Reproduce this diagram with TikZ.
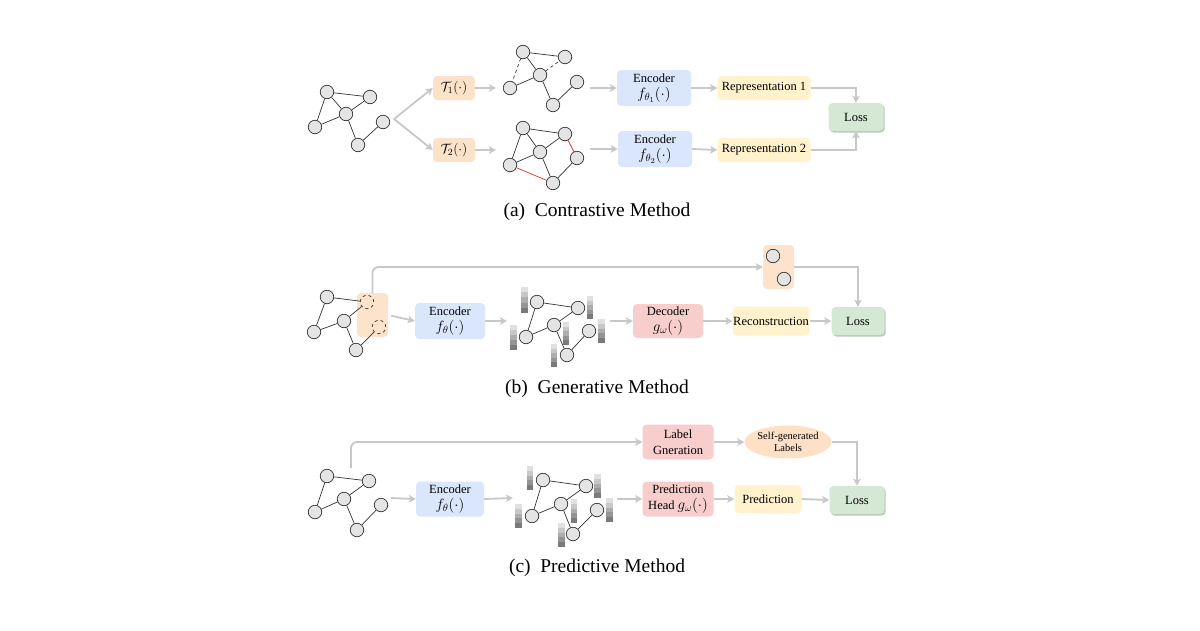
\RequirePackage{fix-cm}
\documentclass[tikz,border=0pt]{standalone}
\usepackage{fontspec}
\setmainfont{Liberation Serif}
\usetikzlibrary{arrows.meta,shapes.geometric}
\definecolor{arrgray}{HTML}{C8C8C8}
\definecolor{tbox}{HTML}{FDE2CA}
\definecolor{mbox}{HTML}{FDE3CC}
\definecolor{ebox}{HTML}{DAE6FB}
\definecolor{ybox}{HTML}{FFF2CC}
\definecolor{gbox}{HTML}{D5E8D4}
\definecolor{gshadow}{HTML}{B9CBB8}
\definecolor{pbox}{HTML}{F8CECC}
\definecolor{ellfill}{HTML}{FDE0C6}
\definecolor{gnfill}{HTML}{E4E4E4}
\definecolor{edgered}{HTML}{E03030}
\newcommand\gbar[3]{%
  \foreach \i/\s in {0/12,1/22,2/32,3/42,4/52}{%
    \fill[black!\s] ({#1-3.3},{#2+\i*(#3-#2)/5}) rectangle ({#1+3.3},{#2+(\i+1)*(#3-#2)/5});}}
\newcommand\mfn[1]{{\fontsize{15}{17}\selectfont$#1$}}
\begin{document}
\begin{tikzpicture}[x=1pt,y=-1pt,
  gnode/.style={circle,draw=black!80,fill=gnfill,line width=0.7pt,minimum size=13.5pt,inner sep=0pt},
  dnode/.style={circle,draw=black!80,dashed,line width=0.7pt,minimum size=13.5pt,inner sep=0pt},
  ge/.style={draw=black!80,line width=0.7pt},
  arr/.style={draw=arrgray,line width=1.8pt,-{Stealth[length=7pt,width=7.5pt,inset=1.5pt]}},
  boxbase/.style={rounded corners=4pt,inner sep=0.5pt,align=center,font=\fontsize{12.5}{16.5}\selectfont},
  tb/.style={boxbase,fill=tbox,minimum width=42pt,minimum height=24pt,font=\fontsize{13.5}{15}\selectfont},
  eb/.style={boxbase,fill=ebox,minimum height=36pt},
  yb/.style={boxbase,fill=ybox,minimum height=28pt},
  lb/.style={boxbase,fill=gbox,minimum width=55pt,minimum height=28pt,
     preaction={fill=gshadow,transform canvas={xshift=1.2pt,yshift=-1.5pt}}},
  pb/.style={boxbase,fill=pbox,minimum height=35pt},
  mb/.style={rounded corners=4pt,fill=mbox,minimum width=31pt,minimum height=44pt,inner sep=0pt},
  captext/.style={font=\fontsize{19.5}{22}\selectfont}
]
\useasboundingbox (0,0) rectangle (1200,630);

%%%%%%%%%%%%%%%% (a)
\node[gnode] (A1) at (327,92) {};
\node[gnode] (A2) at (370,97) {};
\node[gnode] (A3) at (346,114) {};
\node[gnode] (A4) at (315,127) {};
\node[gnode] (A5) at (383,122) {};
\node[gnode] (A6) at (358,145) {};
\draw[ge] (A1)--(A2) (A1)--(A3) (A1)--(A4) (A3)--(A2) (A3)--(A4) (A3)--(A6) (A6)--(A5);

\node[tb] (T1) at (454,88) {$\mathcal{T}_1(\cdot)$};
\node[tb] (T2) at (454,150) {$\mathcal{T}_2(\cdot)$};
\coordinate (split) at (394,119);
\draw[arr] (split) -- (T1.west);
\draw[arr] (split) -- (T2.west);

\node[gnode] (B1) at (523,52) {};
\node[gnode] (B2) at (565,57) {};
\node[gnode] (B3) at (540,75) {};
\node[gnode] (B4) at (510,88) {};
\node[gnode] (B5) at (577,82) {};
\node[gnode] (B6) at (553,105) {};
\draw[ge] (B1)--(B2) (B1)--(B3) (B4)--(B3) (B3)--(B6) (B6)--(B5);
\draw[ge,dashed] (B1)--(B4) (B3)--(B2);

\node[gnode] (C1) at (523,128) {};
\node[gnode] (C2) at (565,134) {};
\node[gnode] (C3) at (540,152) {};
\node[gnode] (C4) at (510,165) {};
\node[gnode] (C5) at (577,158) {};
\node[gnode] (C6) at (553,183) {};
\draw[ge] (C1)--(C2) (C1)--(C3) (C1)--(C4) (C3)--(C2) (C4)--(C3) (C3)--(C6) (C6)--(C5);
\draw[ge,draw=edgered] (C2)--(C5) (C4)--(C6);

\coordinate (ga1in) at (496,88);
\coordinate (ga2in) at (496,150);
\draw[arr] (T1.east) -- (ga1in);
\draw[arr] (T2.east) -- (ga2in);

\node[eb,minimum width=74pt] (E1) at (654,88) {Encoder\\\mfn{f_{\theta_1}(\cdot)}};
\node[eb,minimum width=74pt] (E2) at (655,149) {Encoder\\\mfn{f_{\theta_2}(\cdot)}};
\coordinate (ga1out) at (590,88);
\coordinate (ga2out) at (590,149);
\draw[arr] (ga1out) -- (E1.west);
\draw[arr] (ga2out) -- (E2.west);

\node[yb,minimum width=93pt,minimum height=24pt] (R1) at (764,88) {Representation 1};
\node[yb,minimum width=93pt,minimum height=24pt] (R2) at (764,150) {Representation 2};
\draw[arr] (E1.east) -- (R1.west);
\draw[arr] (E2.east) -- (R2.west);

\node[lb] (L1) at (856,117) {Loss};
\draw[arr] (R1.east) -| (L1.north);
\draw[arr] (R2.east) -| (L1.south);

\node[captext] (capa) at (597,212) {(a)\enspace Contrastive Method};

%%%%%%%%%%%%%%%% (b)
\node[mb] (MB) at (372.5,315) {};
\node[gnode] (D1) at (327,297) {};
\node[dnode] (D2) at (367,302) {};
\node[gnode] (D3) at (344,321) {};
\node[gnode] (D4) at (314,332) {};
\node[dnode] (D5) at (379,327) {};
\node[gnode] (D6) at (356,350) {};
\draw[ge] (D1)--(D2) (D1)--(D4) (D4)--(D3) (D3)--(D2) (D3)--(D6) (D6)--(D5);

\node[mb] (MB2) at (778.5,267) {};
\node[gnode] (M1) at (773,256) {};
\node[gnode] (M2) at (784,279) {};

\node[eb,minimum width=70pt] (Eb) at (450,321) {Encoder\\\mfn{f_{\theta}(\cdot)}};
\draw[arr,shorten <=3pt] (MB.east) -- (Eb.west);
\coordinate (gbin) at (507,321);
\draw[arr] (Eb.east) -- (gbin);

\gbar{524.5}{287}{313}
\gbar{590}{296}{319}
\gbar{566}{322}{345}
\gbar{513.5}{325}{350}
\gbar{601.5}{319}{343}
\gbar{554}{344}{367}
\node[gnode] (G1) at (537,302) {};
\node[gnode] (G2) at (578,308) {};
\node[gnode] (G3) at (554,325) {};
\node[gnode] (G4) at (526,337) {};
\node[gnode] (G5) at (589,331) {};
\node[gnode] (G6) at (567,355) {};
\draw[ge] (G1)--(G2) (G1)--(G4) (G4)--(G3) (G3)--(G2) (G3)--(G6) (G6)--(G5);

\node[pb,minimum width=70pt,minimum height=34pt] (Dec) at (668,321) {Decoder\\\mfn{g_{\omega}(\cdot)}};
\coordinate (gbout) at (610,321);
\draw[arr] (gbout) -- (Dec.west);
\node[yb,minimum width=76pt,minimum height=29pt] (Rec) at (771,321) {Reconstruction};
\draw[arr] (Dec.east) -- (Rec.west);
\node[lb,minimum width=53pt] (L2) at (858,321) {Loss};
\draw[arr] (Rec.east) -- (L2.west);

\draw[arr,rounded corners=6pt] (MB.north) |- (MB2.west);
\draw[arr,rounded corners=0pt] (MB2.east) -| (L2.north);

\node[captext] (capb) at (597,389) {(b)\enspace Generative Method};

%%%%%%%%%%%%%%%% (c)
\node[gnode] (F1) at (327,476) {};
\node[gnode] (F2) at (369,481) {};
\node[gnode] (F3) at (344,499) {};
\node[gnode] (F4) at (315,512) {};
\node[gnode] (F5) at (381,505) {};
\node[gnode] (F6) at (357,530) {};
\draw[ge] (F1)--(F2) (F1)--(F4) (F4)--(F3) (F3)--(F2) (F3)--(F6) (F6)--(F5);

\node[eb,minimum width=68pt,minimum height=35pt] (Ec) at (450,499) {Encoder\\\mfn{f_{\theta}(\cdot)}};
\coordinate (fout) at (391,498);
\draw[arr] (fout) -- (Ec.west);
\coordinate (hin) at (513,498);
\draw[arr] (Ec.east) -- (hin);

\gbar{530}{466}{490}
\gbar{597.5}{474}{498}
\gbar{574}{499}{523}
\gbar{518.5}{504}{528}
\gbar{609.5}{498}{522}
\gbar{561.5}{523}{547}
\node[gnode] (H1) at (543,480) {};
\node[gnode] (H2) at (586,486) {};
\node[gnode] (H3) at (561,504) {};
\node[gnode] (H4) at (532,516) {};
\node[gnode] (H5) at (597,510) {};
\node[gnode] (H6) at (573,534) {};
\draw[ge] (H1)--(H2) (H1)--(H4) (H4)--(H3) (H3)--(H2) (H3)--(H6) (H6)--(H5);

\node[pb,minimum width=71pt] (LG) at (678,442) {Label\\Gneration};
\node[pb,minimum width=71pt] (PH) at (678,499) {Prediction\\Head \mfn{g_{\omega}(\cdot)}};
\coordinate (hout) at (617,499);
\draw[arr] (hout) -- (PH.west);
\coordinate (cstart) at (351,468);
\draw[arr,rounded corners=6pt] (cstart) |- (LG.west);

\node[ellipse,fill=ellfill,minimum width=87pt,minimum height=33pt,inner sep=0pt,align=center,
      font=\fontsize{10.5}{12.5}\selectfont] (SG) at (788,442) {Self-generated\\Labels};
\draw[arr] (LG.east) -- (SG.west);
\node[yb,minimum width=67pt] (Pr) at (768,499) {Prediction};
\draw[arr] (PH.east) -- (Pr.west);
\node[lb] (L3) at (857,500) {Loss};
\draw[arr] (Pr.east) -- (L3.west);
\draw[arr] (SG.east) -| (L3.north);

\node[captext] (capc) at (597,568) {(c)\enspace Predictive Method};
\end{tikzpicture}
\end{document}
